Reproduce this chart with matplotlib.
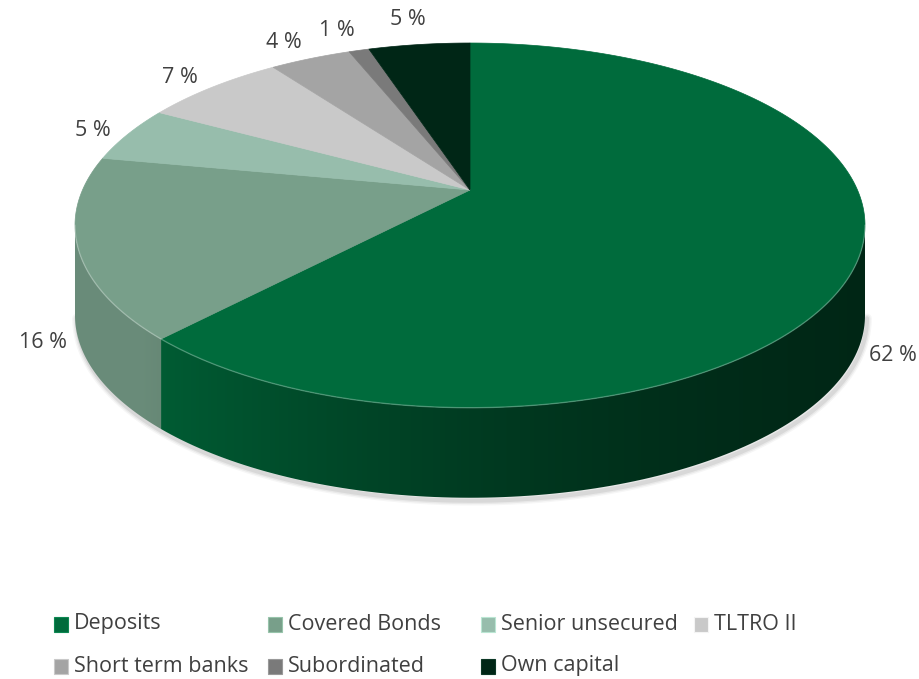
import numpy as np
import matplotlib
matplotlib.use('Agg')
import matplotlib.pyplot as plt
from matplotlib.patches import Polygon, Rectangle

plt.rcParams['font.family'] = ['Open Sans', 'DejaVu Sans']

# funding mix, clockwise from 12 o'clock
categories = ['Deposits', 'Covered Bonds', 'Senior unsecured', 'TLTRO II',
              'Short term banks', 'Subordinated', 'Own capital']
shares = [62, 16, 5, 7, 4, 1, 5]
colors = ['#006B3C', '#789F8A', '#97BDAC', '#C9C9C9', '#A4A4A4', '#7A7A7A', '#002616']

# pie geometry in pixels (tilted disc with a bit of perspective)
CX, CY = 470, 190
A, B, K = 387.5, 175.5, 0.194
H = 90
TXT = '#404040'
FS = 15.5


def rim(phi, dy=0.0):
    u, v = np.sin(phi), np.cos(phi)
    s = 1.0 / (1.0 + K * v)
    return CX + A * u * s, CY - B * v * s + dy


def side_factor(x):
    # darker to the right, lighter to the left
    t = (x - CX) / 395.0
    return np.clip(0.56 - 0.30 * t + 0.10 * t ** 2, 0.3, 0.88)


fig = plt.figure(figsize=(9.2, 6.79), dpi=100)
ax = fig.add_axes([0, 0, 1, 1])
ax.set_xlim(0, 920)
ax.set_ylim(679, 0)
ax.axis('off')

edges = np.concatenate([[0], np.cumsum(shares)]) / sum(shares) * 2 * np.pi
sil = np.arccos(-K)
lo, hi = sil, 2 * np.pi - sil

# soft shadow under the front edge
ph = np.linspace(lo, hi, 200)
sx, sy = rim(ph, H)
for lw, al in [(7, 0.035), (5, 0.05), (3, 0.07)]:
    ax.plot(sx + 2, sy + 3, color='k', lw=lw, alpha=al, solid_capstyle='round', zorder=1)

# side walls with a horizontal gradient
xs = np.linspace(70, 870, 400)
for i, col in enumerate(colors):
    a0, a1 = max(edges[i], lo), min(edges[i + 1], hi)
    if a1 <= a0:
        continue
    pp = np.linspace(a0, a1, 120)
    tx, ty = rim(pp)
    bx, by = rim(pp[::-1], H)
    poly = Polygon(np.column_stack([np.r_[tx, bx], np.r_[ty, by]]), closed=True,
                   fc='none', ec='none', zorder=2)
    ax.add_patch(poly)
    rgb = np.array(matplotlib.colors.to_rgb(col))
    img = np.clip(side_factor(xs)[:, None] * rgb[None, :], 0, 1)[None, :, :]
    im = ax.imshow(img, extent=(70, 870, 520, 30), aspect='auto',
                   interpolation='bilinear', zorder=2)
    im.set_clip_path(poly)

# top face
for i, col in enumerate(colors):
    n = max(3, int(np.degrees(edges[i + 1] - edges[i])) + 2)
    pp = np.linspace(edges[i], edges[i + 1], n)
    tx, ty = rim(pp)
    pts = np.column_stack([np.r_[CX, tx], np.r_[CY, ty]])
    ax.add_patch(Polygon(pts, closed=True, fc=col, ec=col, lw=0.5, zorder=3))

# light highlight along the front rim
ph = np.linspace(lo, hi, 150)
hx, hy = rim(ph)
ax.plot(hx, hy, color='white', lw=1.0, alpha=0.25, zorder=4)

# data labels outside the slices
for i, v in enumerate(shares):
    mid = (edges[i] + edges[i + 1]) / 2
    front = np.cos(mid) < 0
    x, y = rim(mid)
    dx, dy = x - CX, y - CY
    d = np.hypot(dx, dy)
    if front:
        y += H
        lx, ly = x + dx / d * 35, y + dy / d * 35
    else:
        lx, ly = x + dx / d * 35, y + dy / d * 26
    ax.text(lx, ly, f'{v} %', ha='center', va='center', fontsize=FS, color=TXT, zorder=5)

# legend, 4 equal columns like the original
col_x = [54, 268, 481, 694]
row_y = [624, 666]
for i, (name, col) in enumerate(zip(categories, colors)):
    x = col_x[i % 4]
    y = row_y[i // 4]
    lighter = tuple(np.clip(np.array(matplotlib.colors.to_rgb(col)) * 1.15 + 0.05, 0, 1))
    ax.add_patch(Rectangle((x, y - 7.5), 14, 15, fc=col, ec=lighter, lw=0.8))
    ax.text(x + 20, y, name, ha='left', va='center', fontsize=FS, color=TXT)

fig.savefig('out.png', dpi=100)
